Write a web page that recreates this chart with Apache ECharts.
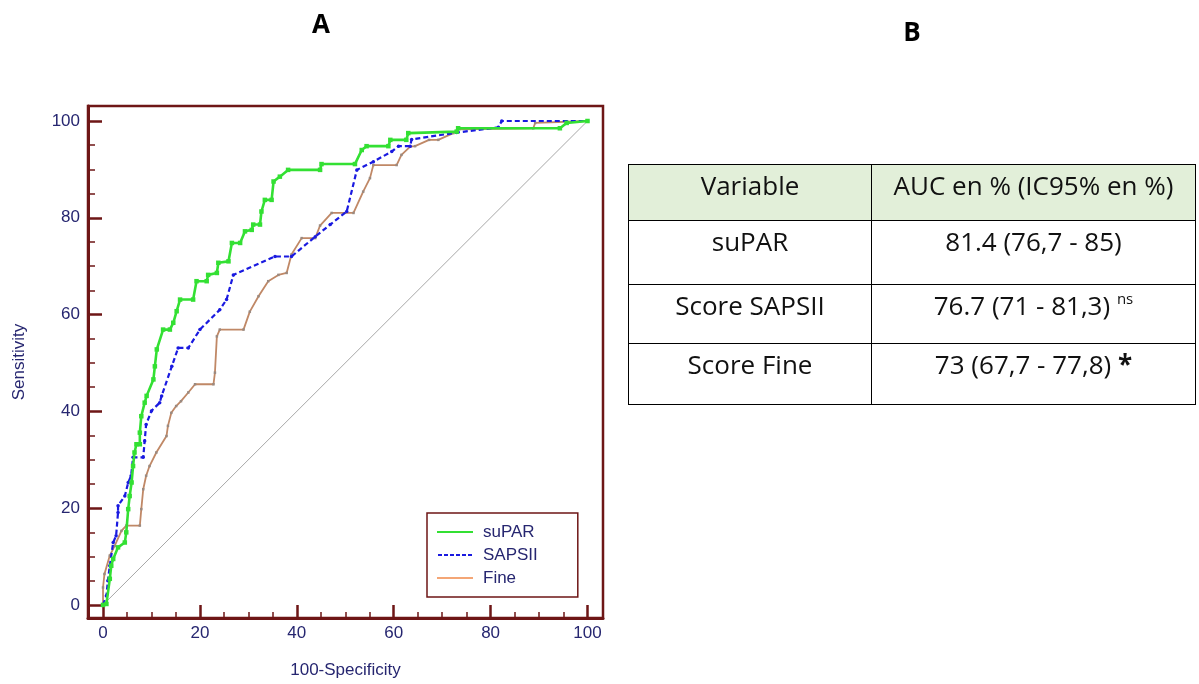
<!DOCTYPE html>
<html>
<head>
<meta charset="utf-8">
<script src="https://cdn.jsdelivr.net/npm/echarts/dist/echarts.min.js"></script>
<style>
html,body{margin:0;padding:0;background:#fff;}
#chart{position:absolute;left:0;top:0;width:1199px;height:684px;}
.panel{position:absolute;font-family:"Open Sans";font-weight:bold;font-size:26px;color:#000;transform:translate(-50%,-50%);line-height:1;}
#tbl{position:absolute;left:628px;top:164px;border-collapse:collapse;font-family:"Open Sans";font-size:26px;color:#111;table-layout:fixed;}
#tbl td{border:1.5px solid #000;text-align:center;vertical-align:top;padding:5px 0 0 0;box-sizing:border-box;line-height:30px;white-space:nowrap;}
#tbl tr.hdr td{background:#e2efd9;}
#tbl sup{font-size:15px;vertical-align:11px;line-height:0;}
</style>
</head>
<body>
<div id="chart"></div>
<div class="panel" id="pA" style="left:321px;top:23px;">A</div>
<div class="panel" id="pB" style="left:912px;top:31px;">B</div>
<table id="tbl"></table>
<script>
// ---- data ----
const seriesNames = ['suPAR', 'SAPSII', 'Fine'];
const suparPoints = [[0,0],[0.7,0.2],[1.4,5.4],[1.7,8.1],[2.1,9.5],[3.1,11.9],[4.5,12.9],[4.8,15],[5.2,19.8],[5.5,22.5],[5.9,25.3],[6.2,28.7],[6.5,31.5],[6.9,33.2],[7.6,33.2],[7.6,35.6],[7.9,39],[8.6,41.8],[9,43.2],[10.4,46.6],[10.7,49.3],[11.1,52.8],[12.4,56.9],[13.8,56.9],[14.5,58.3],[15.2,60.7],[15.9,63.1],[18.6,63.1],[19.3,66.9],[21.4,66.9],[21.7,68.2],[23.5,68.6],[23.8,70.7],[25.9,71],[26.6,74.8],[28.3,74.8],[29.3,77.2],[30.7,77.5],[31,78.6],[32.4,78.6],[32.7,81.3],[33.4,83.7],[34.8,83.7],[35.2,87.5],[36.5,88.5],[38.2,89.9],[44.8,89.9],[45.1,91.1],[52,91.1],[53.4,94],[54.4,94.8],[58.9,94.8],[59.3,96.1],[62.6,96.1],[63,97.5],[73,97.8],[73.3,98.5],[94.3,98.5],[95.7,99.6],[100,100]];
const sapsPoints = [[0,0],[0.7,1.9],[1,5],[1.4,8.1],[2.1,12.9],[2.7,14.3],[3.1,19.1],[3.1,20.5],[4.5,22.5],[5.2,25.3],[5.8,26.7],[6.2,30.5],[8.3,30.5],[8.6,33.9],[8.9,37.3],[10,40.1],[11.7,41.8],[12.1,43.2],[14.2,49.3],[15.5,53.1],[17.6,53.1],[20,56.9],[24.1,61],[25.5,63.1],[26.9,68.2],[35.5,72],[38.9,72],[43.8,76.1],[46.9,78.6],[50.3,81.3],[52.4,89.9],[55.8,91.6],[59.6,93.7],[61,94.8],[63.4,94.8],[63.7,96.2],[73,97.6],[81.6,98.7],[82.3,100],[100,100]];
const finePoints = [[0,0],[0,3.6],[0.3,6.4],[1.4,10.2],[2.4,12.2],[3.8,15.3],[4.8,16.4],[7.6,16.4],[7.9,19.8],[8.3,23.9],[8.9,26.7],[9.6,28.7],[11,31.5],[13.1,34.9],[13.4,37],[14.1,39.7],[15.1,41.1],[16.1,42.1],[17.6,43.9],[19,45.6],[22.8,45.6],[23.1,48],[23.5,55.5],[24.1,56.9],[29,56.9],[30.3,60.6],[32.1,63.8],[34.1,66.9],[36.2,68.2],[37.9,68.6],[38.9,72.4],[41,75.8],[43.8,75.8],[44.8,78.4],[47.2,81],[51.7,81],[53.7,85.4],[55.1,88.2],[55.8,90.9],[60.6,90.9],[61.6,93],[63.4,94.7],[64.4,94.8],[67.3,96.1],[69.2,96.1],[72.3,97.5],[73.2,98.3],[88.8,98.5],[89.2,99.6],[100,100]];
const diagonalPoints = [[0,0],[100,100]];
const majorTicks = [0, 20, 40, 60, 80, 100];
const minorTicks = [5, 10, 15, 25, 30, 35, 45, 50, 55, 65, 70, 75, 85, 90, 95];
const xAxisName = '100-Specificity';
const yAxisName = 'Sensitivity';

const tableHeader = ['Variable', 'AUC en % (IC95% en %)'];
const tableVariables = ['suPAR', 'Score SAPSII', 'Score Fine'];
const tableAuc = ['81.4 (76,7 - 85)', '76.7 (71 - 81,3)', '73 (67,7 - 77,8)'];
const tableMarks = ['', 'ns', '*'];

// ---- table ----
(function(){
  const tbl = document.getElementById('tbl');
  const colW = [243, 324];
  const rowH = [56, 64, 59, 61];
  let html = '<colgroup><col style="width:'+colW[0]+'px"><col style="width:'+colW[1]+'px"></colgroup>';
  html += '<tr class="hdr"><td style="height:'+rowH[0]+'px">'+tableHeader[0]+'</td><td style="height:'+rowH[0]+'px">'+tableHeader[1]+'</td></tr>';
  for (let i = 0; i < tableVariables.length; i++) {
    let mark = '';
    if (tableMarks[i] === 'ns') mark = ' <sup>ns</sup>';
    else if (tableMarks[i] === '*') mark = ' <b>*</b>';
    html += '<tr><td style="height:'+rowH[i+1]+'px">'+tableVariables[i]+'</td><td style="height:'+rowH[i+1]+'px">'+tableAuc[i]+mark+'</td></tr>';
  }
  tbl.innerHTML = html;
})();

// ---- chart ----
const axisRed = '#6e1616';
const labelBlue = '#262670';
const fontFam = 'Liberation Sans';

function dashPath(){
  let p = 'path://';
  for (let x = 0; x < 36; x += 6) p += 'M' + x + ',0h4v2h-4z';
  return p;
}

const chart = echarts.init(document.getElementById('chart'), null, {renderer: 'canvas'});
const option = {
  animation: false,
  backgroundColor: '#fff',
  grid: {left: 88, top: 106, right: 596, bottom: 65, show: true, borderColor: axisRed, borderWidth: 2.5, backgroundColor: '#fff'},
  legend: {
    left: 427, top: 513, orient: 'vertical',
    padding: [9, 40, 9, 10],
    itemWidth: 36, itemHeight: 2, itemGap: 3,
    borderColor: axisRed, borderWidth: 1.5, backgroundColor: '#fff',
    textStyle: {color: labelBlue, fontFamily: fontFam, fontSize: 17, lineHeight: 20, padding: [0, 0, 0, 5]},
    data: [
      {name: seriesNames[0], icon: 'path://M0,0H36V2H0Z', itemStyle: {color: '#33e033'}},
      {name: seriesNames[1], icon: dashPath(), itemStyle: {color: '#1a1ae0'}},
      {name: seriesNames[2], icon: 'path://M0,0H36V2H0Z', itemStyle: {color: '#f4a676'}}
    ]
  },
  xAxis: [{
    type: 'value', min: -3.1, max: 103.2, position: 'bottom',
    name: xAxisName, nameLocation: 'middle', nameGap: 44,
    nameTextStyle: {color: labelBlue, fontFamily: fontFam, fontSize: 17},
    axisLine: {show: true, onZero: false, lineStyle: {color: axisRed, width: 3}},
    axisTick: {show: true, inside: true, length: 13, customValues: majorTicks, lineStyle: {color: axisRed, width: 2.5}},
    axisLabel: {show: true, customValues: majorTicks, margin: 7, color: labelBlue, fontFamily: fontFam, fontSize: 17},
    splitLine: {show: false}
  }, {
    type: 'value', min: -3.1, max: 103.2, position: 'bottom', gridIndex: 0,
    axisLine: {show: false, onZero: false},
    axisTick: {show: true, inside: true, length: 6, customValues: minorTicks, lineStyle: {color: axisRed, width: 1.5}},
    axisLabel: {show: false},
    splitLine: {show: false}
  }],
  yAxis: [{
    type: 'value', min: -2.7, max: 103.1, position: 'left',
    name: yAxisName, nameLocation: 'middle', nameGap: 60,
    nameTextStyle: {color: labelBlue, fontFamily: fontFam, fontSize: 17},
    axisLine: {show: true, onZero: false, lineStyle: {color: axisRed, width: 3}},
    axisTick: {show: true, inside: true, length: 14, customValues: majorTicks, lineStyle: {color: axisRed, width: 2.5}},
    axisLabel: {show: true, customValues: majorTicks, margin: 8, color: labelBlue, fontFamily: fontFam, fontSize: 17},
    splitLine: {show: false}
  }, {
    type: 'value', min: -2.7, max: 103.1, position: 'left', gridIndex: 0,
    axisLine: {show: false, onZero: false},
    axisTick: {show: true, inside: true, length: 7, customValues: minorTicks, lineStyle: {color: axisRed, width: 1.5}},
    axisLabel: {show: false},
    splitLine: {show: false}
  }],
  series: [
    {name: 'diag', type: 'line', data: diagonalPoints, symbol: 'none', silent: true,
     lineStyle: {color: '#a8a8a8', width: 1}, z: 1},
    {name: seriesNames[2], type: 'line', data: finePoints, symbol: 'rect', symbolSize: 2.5, showSymbol: true,
     color: '#c08866', itemStyle: {color: '#9a8a80'}, lineStyle: {color: '#c08866', width: 1.8}, z: 2},
    {name: seriesNames[1], type: 'line', data: sapsPoints, symbol: 'circle', symbolSize: 3.5, showSymbol: true,
     color: '#1a1ae0', itemStyle: {color: '#1a1ae0'}, lineStyle: {color: '#1a1ae0', width: 2.2, type: [5, 3]}, z: 3},
    {name: seriesNames[0], type: 'line', data: suparPoints, symbol: 'rect', symbolSize: 4.5, showSymbol: true,
     color: '#33e033', itemStyle: {color: '#33e033'}, lineStyle: {color: '#33e033', width: 2.6}, z: 4}
  ]
};
chart.setOption(option);
</script>
</body>
</html>
